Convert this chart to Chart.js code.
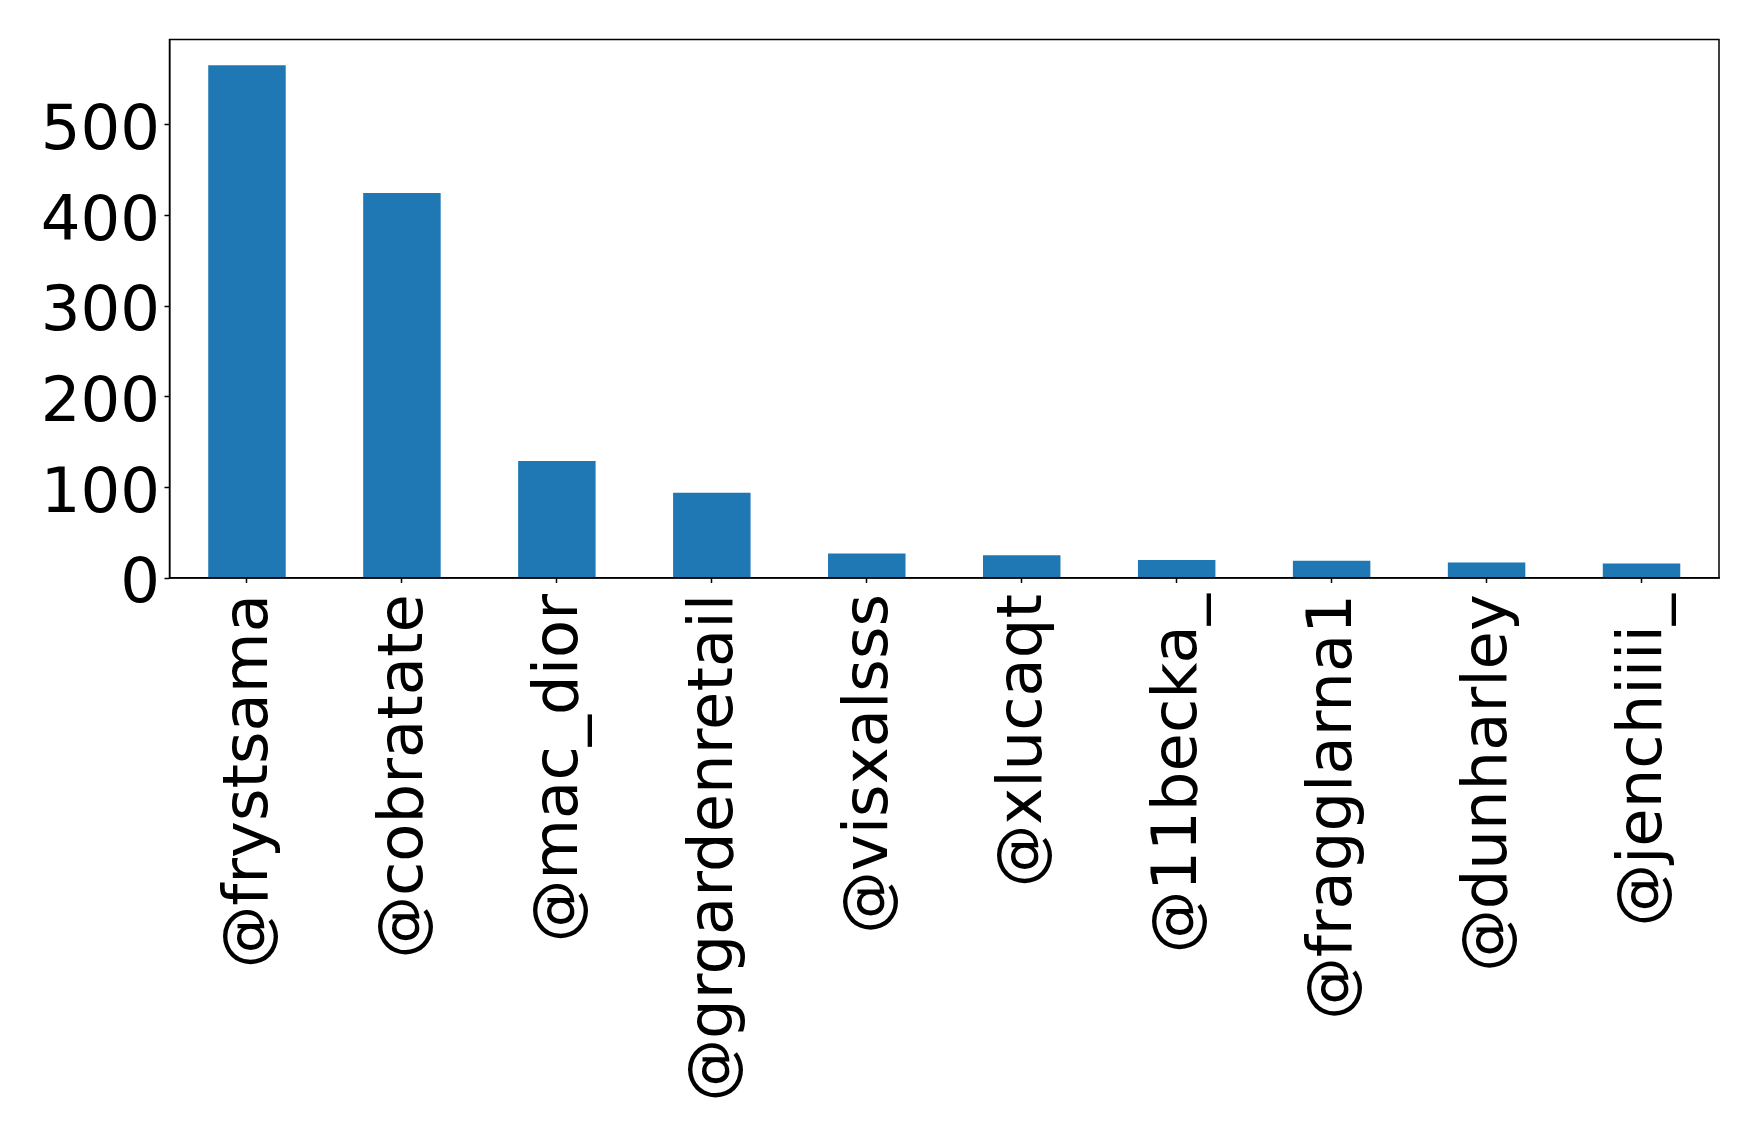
<!DOCTYPE html>
<html>
<head>
<meta charset="utf-8">
<script src="https://cdn.jsdelivr.net/npm/chart.js@4.4.0/dist/chart.umd.min.js"></script>
<style>
html,body{margin:0;padding:0;background:#fff;}
#wrap{width:1759px;height:1135px;}
</style>
</head>
<body>
<div id="wrap"><canvas id="c" width="1759" height="1135"></canvas></div>
<script>
const categories = ["@frystsama","@cobratate","@mac_dior","@grgardenretail","@visxalsss","@xlucaqt","@11becka_","@fragglarna1","@dunharley","@jenchiiii_"];
const counts = [566, 425, 129, 94, 27, 25, 20, 19, 17, 16];
const yTicks = [0, 100, 200, 300, 400, 500];
const yMax = 594.3;

const frame = {
  id: 'frame',
  afterDraw(chart) {
    const a = chart.chartArea, ctx = chart.ctx;
    ctx.save();
    ctx.strokeStyle = '#000';
    ctx.lineWidth = 1.5;
    ctx.strokeRect(a.left, a.top, a.right - a.left, a.bottom - a.top);
    ctx.restore();
  }
};

new Chart(document.getElementById('c'), {
  type: 'bar',
  data: {
    labels: categories,
    datasets: [{
      data: counts,
      backgroundColor: '#1f77b4',
      borderWidth: 0,
      barPercentage: 0.5,
      categoryPercentage: 1.0
    }]
  },
  options: {
    responsive: false,
    animation: false,
    devicePixelRatio: 1,
    layout: { padding: { left: 0, top: 39.5, right: 40, bottom: 0 } },
    plugins: { legend: { display: false }, tooltip: { enabled: false } },
    scales: {
      x: {
        offset: true,
        grid: { display: true, drawOnChartArea: false, drawTicks: true, tickLength: 5, tickColor: '#000', tickWidth: 1.5, offset: false },
        border: { display: true, color: '#000', width: 1.5 },
        ticks: {
          color: '#000',
          font: { family: 'DejaVu Sans', size: 62.5, lineHeight: '3.5px' },
          minRotation: 90, maxRotation: 90,
          autoSkip: false,
          padding: 11,
          callback(value) { return ['', this.getLabelForValue(value)]; }
        },
        afterFit(scale) {
          scale.height = 1135 - 578;
          scale.paddingLeft = 0; scale.paddingRight = 0;
        }
      },
      y: {
        min: 0,
        max: yMax,
        grid: { display: true, drawOnChartArea: false, drawTicks: true, tickLength: 5, tickColor: '#000', tickWidth: 1.5 },
        border: { display: true, color: '#000', width: 1.5 },
        ticks: {
          color: '#000',
          font: { family: 'DejaVu Sans', size: 62.5, lineHeight: '16px' },
          padding: 4.5,
          stepSize: 100,
          callback(value) { return ['', String(value)]; }
        },
        afterBuildTicks(scale) {
          scale.ticks = yTicks.map(v => ({ value: v }));
        },
        afterFit(scale) {
          scale.width = 169.5;
          scale.paddingTop = 0; scale.paddingBottom = 0;
        }
      }
    }
  },
  plugins: [frame]
});
</script>
</body>
</html>
